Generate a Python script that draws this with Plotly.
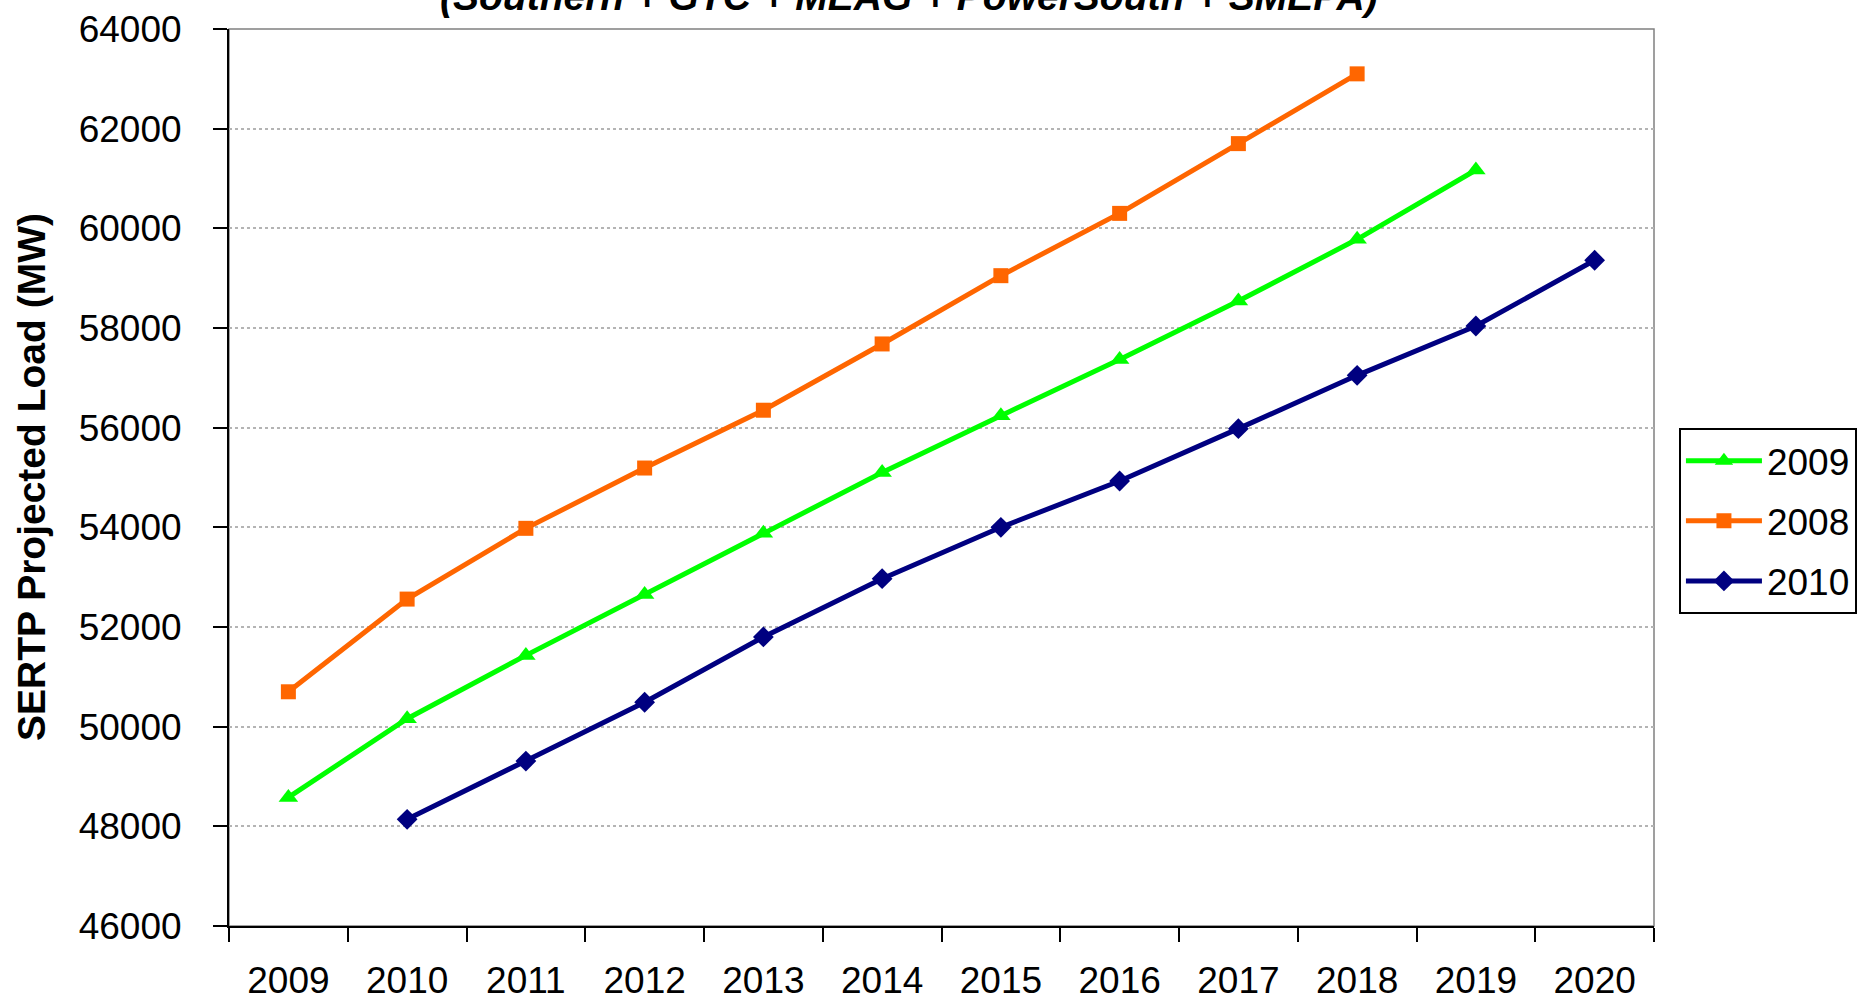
import plotly.graph_objects as go

years = ["2009", "2010", "2011", "2012", "2013", "2014", "2015", "2016", "2017", "2018", "2019", "2020"]

years_2009 = years[0:11]
load_2009 = [48580, 50160, 51430, 52650, 53880, 55100, 56240, 57370, 58540, 59780, 61170]

years_2008 = years[0:10]
load_2008 = [50700, 52560, 53980, 55190, 56350, 57680, 59050, 60300, 61700, 63100]

years_2010 = years[1:12]
load_2010 = [48140, 49310, 50490, 51800, 52970, 54000, 54930, 55980, 57050, 58040, 59360]

FONT = "Arial, Liberation Sans, sans-serif"

fig = go.Figure()
fig.add_trace(go.Scatter(x=years_2009, y=load_2009, name="2009", mode="lines+markers",
                         line=dict(color="#00FF00", width=5),
                         marker=dict(symbol="triangle-up", size=17, color="#00FF00"),
                         legendgroup="a"))
fig.add_trace(go.Scatter(x=years_2008, y=load_2008, name="2008", mode="lines+markers",
                         line=dict(color="#FF6600", width=5),
                         marker=dict(symbol="square", size=15, color="#FF6600"),
                         legendgroup="b"))
fig.add_trace(go.Scatter(x=years_2010, y=load_2010, name="2010", mode="lines+markers",
                         line=dict(color="#000080", width=5),
                         marker=dict(symbol="diamond", size=16, color="#000080"),
                         legendgroup="c"))

fig.update_layout(
    width=1857, height=1001,
    margin=dict(l=229, r=203, t=29, b=75, autoexpand=False),
    paper_bgcolor="white", plot_bgcolor="white",
    font=dict(family=FONT, size=37, color="black"),
    showlegend=True,
    legend=dict(x=1.0175, y=0.555, xanchor="left", yanchor="top",
                bordercolor="black", borderwidth=2, bgcolor="white",
                font=dict(family=FONT, size=37, color="black"),
                tracegroupgap=9, itemwidth=76, traceorder="grouped"),
)

fig.update_xaxes(type="category", categoryorder="array", categoryarray=years,
                 range=[-0.5, 11.5],
                 tickson="boundaries", ticks="outside", ticklen=14, tickwidth=2,
                 tickcolor="black", showline=True, linecolor="black", linewidth=2,
                 showgrid=False, ticklabelstandoff=21,
                 tickfont=dict(family=FONT, size=37, color="black"))
fig.update_yaxes(range=[46000, 64000], dtick=2000, tickformat="d",
                 ticks="outside", ticklen=14, tickwidth=2, tickcolor="black",
                 showline=True, linecolor="black", linewidth=2,
                 showgrid=True, gridcolor="#b4b4b4", gridwidth=2, griddash="dot",
                 zeroline=False, ticklabelstandoff=24,
                 tickfont=dict(family=FONT, size=37, color="black"))

# plot area border
fig.add_shape(type="rect", xref="paper", yref="paper", x0=0, x1=1, y0=0, y1=1,
              line=dict(color="#808080", width=1.5), layer="below")

# y-axis title
fig.add_annotation(text="<b>SERTP Projected Load (MW)</b>", xref="paper", yref="paper",
                   x=-0.1382, y=0.5006, xanchor="center", yanchor="middle",
                   textangle=-90, showarrow=False,
                   font=dict(family=FONT, size=39, color="black"))

# clipped chart title (only lower part visible in the reference)
fig.add_annotation(text="<b><i>(Southern + GTC + MEAG + PowerSouth + SMEPA)</i></b>",
                   xref="paper", yref="paper", x=0.477, y=1.0105,
                   xanchor="center", yanchor="bottom", showarrow=False,
                   font=dict(family=FONT, size=39, color="black"))

fig.write_html("out.html", config={"displayModeBar": False},
               post_script="document.body.style.margin='0';document.body.style.overflow='hidden';")
